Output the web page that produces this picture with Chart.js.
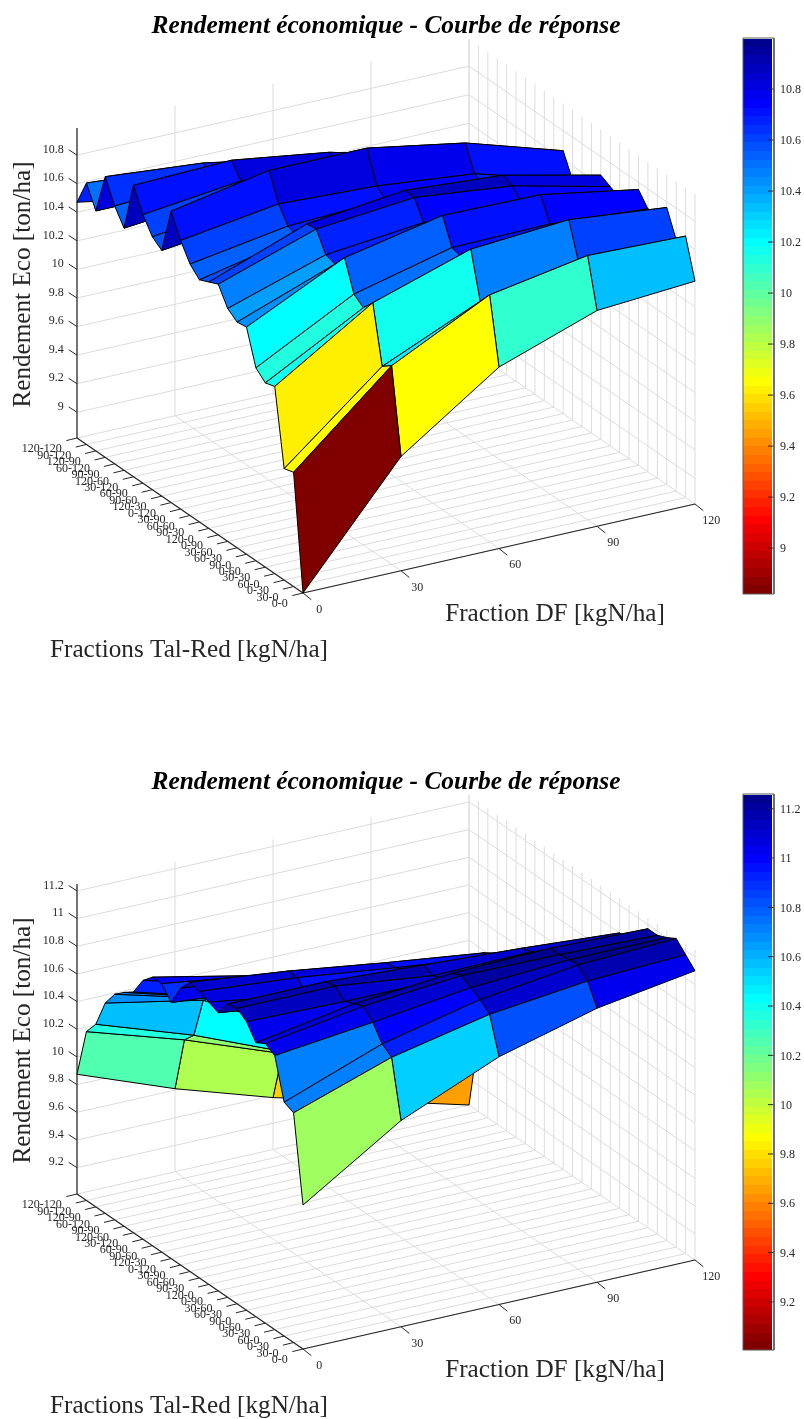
<!DOCTYPE html>
<html>
<head>
<meta charset="utf-8">
<title>Rendement économique - Courbe de réponse</title>
<script src="https://cdn.jsdelivr.net/npm/chart.js@4/dist/chart.umd.min.js"></script>
<style>
  html, body { margin: 0; padding: 0; background: #fff; }
  body { position: relative; width: 804px; height: 1419px; overflow: hidden; }
  canvas { position: absolute; left: 0; }
  #chartTop { top: 0; }
  #chartBottom { top: 756px; }
</style>
</head>
<body>
<canvas id="chartTop" width="804" height="663"></canvas>
<canvas id="chartBottom" width="804" height="663"></canvas>
<script>
// tick labels
const dfTicks = ['0', '30', '60', '90', '120'];
const talRedTicks = ['0-0', '30-0', '0-30', '60-0', '30-30', '0-60', '90-0', '60-30', '30-60', '0-90',
    '120-0', '90-30', '60-60', '30-90', '0-120', '120-30', '90-60', '60-90', '30-120', '120-60',
    '90-90', '60-120', '120-90', '90-120', '120-120'];

// top surface, one list per DF level, read along Tal-Red
const topDf0 = [8.82, 9.62, 9.60, 10.13, 10.11, 10.17, 10.41, 10.40, 10.45, 10.575, 10.545, 10.515, 10.58, 10.70, 10.86, 10.54, 10.59, 10.70, 10.86, 10.515, 10.625, 10.785, 10.50, 10.65, 10.47];
const topDf1 = [9.62, 10.21, 10.16, 10.56, 10.48, 10.53, 10.74, 10.65, 10.67, 10.805, 10.795, 10.66, 10.69, 10.80, 10.99, 10.62, 10.68, 10.78, 10.88, 10.58, 10.66, 10.725, 10.50, 10.60, 10.35];
const topDf2 = [10.09, 10.55, 10.46, 10.78, 10.68, 10.70, 10.88, 10.75, 10.74, 10.87, 10.875, 10.70, 10.72, 10.77, 10.99, 10.62, 10.66, 10.72, 10.78, 10.50, 10.55, 10.60, 10.35, 10.40, 10.10];
const topDf3 = [10.33, 10.67, 10.59, 10.83, 10.72, 10.71, 10.87, 10.74, 10.72, 10.795, 10.825, 10.68, 10.66, 10.70, 10.87, 10.50, 10.52, 10.55, 10.60, 10.30, 10.35, 10.38, 10.10, 10.15, 9.85];
const topDf4 = [10.38, 10.65, 10.58, 10.76, 10.68, 10.66, 10.75, 10.62, 10.60, 10.635, 10.67, 10.50, 10.48, 10.50, 10.66, 10.25, 10.28, 10.30, 10.38, 10.05, 10.10, 10.15, 9.85, 9.90, 9.60];

// bottom surface
const botDf0 = [10.05, 10.67, 10.70, 10.99, 11.03, 10.99, 11.095, 11.145, 11.13, 11.02, 11.05, 11.08, 11.10, 11.01, 10.86, 10.95, 10.95, 10.88, 10.75, 10.70, 10.64, 10.53, 10.33, 10.23, 9.875];
const botDf1 = [10.50, 10.91, 10.96, 11.07, 11.14, 11.11, 11.08, 11.145, 11.13, 10.93, 10.94, 11.02, 11.02, 10.95, 10.80, 10.85, 10.80, 10.70, 10.55, 10.50, 10.45, 10.39, 10.09, 10.01, 9.61];
const botDf2 = [10.80, 11.06, 11.12, 11.16, 11.20, 11.17, 11.08, 11.06, 11.09, 10.98, 10.95, 10.93, 10.92, 10.78, 10.60, 10.65, 10.60, 10.45, 10.30, 10.20, 10.10, 10.00, 9.80, 9.75, 9.385];
const botDf3 = [10.99, 11.14, 11.21, 11.20, 11.19, 11.19, 11.09, 11.07, 11.05, 10.95, 10.90, 10.85, 10.83, 10.77, 10.40, 10.45, 10.35, 10.20, 10.05, 9.95, 9.85, 9.75, 9.70, 9.61, 9.20];
const botDf4 = [11.10, 11.17, 11.24, 11.20, 11.17, 11.17, 11.05, 11.00, 11.00, 10.85, 10.80, 10.70, 10.65, 10.55, 10.20, 10.25, 10.10, 9.95, 9.90, 9.90, 9.85, 9.80, 9.60, 9.54, 9.01];

// vertical axis and colorbar ticks
const topZTicks = [9, 9.2, 9.4, 9.6, 9.8, 10, 10.2, 10.4, 10.6, 10.8];
const botZTicks = [9.2, 9.4, 9.6, 9.8, 10, 10.2, 10.4, 10.6, 10.8, 11, 11.2];

const SERIF = '"Liberation Serif", "Times New Roman", serif';
const TEXT = '#262626';
const GRID = '#dcdcdc';

// box geometry, same for both plots
const origin = { x: 303, y: 593 };
const dfStep = { x: 98, y: -22.25 };
const talStep = { x: -226 / 24, y: -155 / 24 };
const boxHeight = 310;
const bar = { left: 743, right: 774, top: 38, bottom: 594 };

function jetReversed(z, cMin, cMax) {
    let idx = Math.floor((z - cMin) / (cMax - cMin) * 64);
    idx = Math.max(0, Math.min(63, idx));
    const t = (64 - idx) / 64;
    const c = v => Math.round(Math.max(0, Math.min(1, v)) * 255);
    const r = c(Math.min(4 * t - 1.5, -4 * t + 4.5));
    const g = c(Math.min(4 * t - 0.5, -4 * t + 3.5));
    const b = c(Math.min(4 * t + 0.5, -4 * t + 2.5));
    return `rgb(${r},${g},${b})`;
}

// faceShift: faces read a little warmer than their height says, nudge the colour lookup
function buildChart(canvasId, rows, zTicks, zMin, zMax, cMin, cMax, faceShift) {
    const project = (d, i, z) => ({
        x: origin.x + d * dfStep.x + i * talStep.x,
        y: origin.y + d * dfStep.y + i * talStep.y - (z - zMin) / (zMax - zMin) * boxHeight
    });
    const nDf = dfTicks.length - 1;
    const nTal = talRedTicks.length - 1;
    const line = (pts, color, width) => ({
        data: pts, showLine: true, borderColor: color, borderWidth: width,
        pointRadius: 0, fill: false, clip: false
    });
    const poly = (pts, color, edge) => ({
        data: pts, showLine: true, borderColor: edge || 'rgba(0,0,0,0)', borderWidth: edge ? 1 : 0,
        backgroundColor: color, fill: 'shape', pointRadius: 0, clip: false
    });

    // front faces first, chart.js paints the first dataset last
    const faces = [];
    for (let i = 0; i < nTal; i++) {
        for (let d = 0; d < nDf; d++) {
            faces.push(poly([
                project(d, i, rows[d][i]),
                project(d + 1, i, rows[d + 1][i]),
                project(d + 1, i + 1, rows[d + 1][i + 1]),
                project(d, i + 1, rows[d][i + 1]),
                project(d, i, rows[d][i])
            ], jetReversed(rows[d][i] + faceShift, cMin, cMax), '#000'));
        }
    }

    const axes = [
        line([project(0, 0, zMin), project(nDf, 0, zMin)], TEXT, 1.2),
        line([project(0, 0, zMin), project(0, nTal, zMin)], TEXT, 1.2),
        line([project(0, nTal, zMin), project(0, nTal, zMax)], TEXT, 1.2)
    ];
    const tickOut = (p, v) => ({ x: p.x + v.x, y: p.y + v.y });
    const dfTick = { x: 8.3, y: 6.7 };
    const talTick = { x: -10.7, y: 2.6 };
    const zTick = { x: -8.3, y: -5.4 };
    dfTicks.forEach((_, d) => {
        const p = project(d, 0, zMin);
        axes.push(line([p, tickOut(p, dfTick)], TEXT, 1));
    });
    talRedTicks.forEach((_, i) => {
        const p = project(0, i, zMin);
        axes.push(line([p, tickOut(p, talTick)], TEXT, 1));
    });
    zTicks.forEach(z => {
        const p = project(0, nTal, z);
        axes.push(line([p, tickOut(p, zTick)], TEXT, 1));
    });

    const grid = [];
    dfTicks.forEach((_, d) => {
        grid.push(line([project(d, 0, zMin), project(d, nTal, zMin), project(d, nTal, zMax)], GRID, 1));
    });
    talRedTicks.forEach((_, i) => {
        grid.push(line([project(0, i, zMin), project(nDf, i, zMin), project(nDf, i, zMax)], GRID, 1));
    });
    zTicks.forEach(z => {
        grid.push(line([project(0, nTal, z), project(nDf, nTal, z), project(nDf, 0, z)], GRID, 1));
    });

    // colorbar, 64 colour steps
    const barY = v => bar.bottom - (v - cMin) / (cMax - cMin) * (bar.bottom - bar.top);
    const barCells = [];
    for (let k = 0; k < 64; k++) {
        const lo = cMin + (cMax - cMin) * k / 64;
        const hi = cMin + (cMax - cMin) * (k + 1) / 64;
        const y0 = Math.round(barY(lo));
        const y1 = Math.round(barY(hi));
        barCells.push(poly([
            { x: bar.left, y: y0 }, { x: bar.right, y: y0 },
            { x: bar.right, y: y1 }, { x: bar.left, y: y1 }, { x: bar.left, y: y0 }
        ], jetReversed((lo + hi) / 2, cMin, cMax)));
    }
    const barMarks = [line([
        { x: bar.left, y: bar.top }, { x: bar.right, y: bar.top }, { x: bar.right, y: bar.bottom },
        { x: bar.left, y: bar.bottom }, { x: bar.left, y: bar.top }
    ], '#5a5a5a', 1)];
    zTicks.forEach(z => {
        barMarks.push(line([{ x: bar.right - 6, y: barY(z) }, { x: bar.right, y: barY(z) }], TEXT, 1));
    });

    const labels = {
        id: 'boxLabels',
        afterDraw(chart) {
            const { ctx, scales } = chart;
            const px = p => ({ x: scales.x.getPixelForValue(p.x), y: scales.y.getPixelForValue(p.y) });
            ctx.save();
            ctx.fillStyle = TEXT;
            ctx.textBaseline = 'middle';

            ctx.font = '12px ' + SERIF;
            ctx.textAlign = 'center';
            dfTicks.forEach((t, d) => {
                const p = px(tickOut(project(d, 0, zMin), dfTick));
                ctx.fillText(t, p.x + 8, p.y + 10);
            });
            ctx.textAlign = 'right';
            talRedTicks.forEach((t, i) => {
                const p = px(tickOut(project(0, i, zMin), talTick));
                ctx.fillText(t, p.x - 4.5, p.y + 8.5);
            });
            zTicks.forEach(z => {
                const p = px(tickOut(project(0, nTal, z), zTick));
                ctx.fillText(String(z), p.x - 5, p.y);
            });
            ctx.textAlign = 'left';
            zTicks.forEach(z => {
                ctx.fillText(String(z), 780, scales.y.getPixelForValue(barY(z)) + 1);
            });

            ctx.font = '25.2px ' + SERIF;
            ctx.textAlign = 'center';
            ctx.fillText('Fraction DF [kgN/ha]', 555, 614);
            ctx.fillText('Fractions Tal-Red [kgN/ha]', 189, 650);
            ctx.translate(23, 284.5);
            ctx.rotate(-Math.PI / 2);
            ctx.fillText('Rendement Eco [ton/ha]', 0, 0);
            ctx.restore();
        }
    };

    return new Chart(document.getElementById(canvasId).getContext('2d'), {
        type: 'scatter',
        data: { datasets: [...faces, ...barMarks, ...barCells, ...axes, ...grid] },
        options: {
            responsive: false,
            animation: false,
            events: [],
            layout: { padding: { right: 32 } },
            plugins: {
                legend: { display: false },
                tooltip: { enabled: false },
                title: {
                    display: true,
                    text: 'Rendement économique - Courbe de réponse',
                    color: '#000',
                    fullSize: false,
                    font: { family: SERIF, size: 25.4, style: 'italic', weight: 'bold', lineHeight: '26px' },
                    padding: { top: 13, bottom: 0 }
                }
            },
            scales: {
                x: { type: 'linear', display: false, min: 0, max: 772 },
                y: { type: 'linear', display: false, reverse: true, min: 39, max: 663 }
            }
        },
        plugins: [labels]
    });
}

buildChart('chartTop', [topDf0, topDf1, topDf2, topDf3, topDf4], topZTicks, 8.82, 10.99, 8.82, 11.0, 0.02);
buildChart('chartBottom', [botDf0, botDf1, botDf2, botDf3, botDf4], botZTicks, 9.01, 11.25, 9.005, 11.26, 0.03);
</script>
</body>
</html>
